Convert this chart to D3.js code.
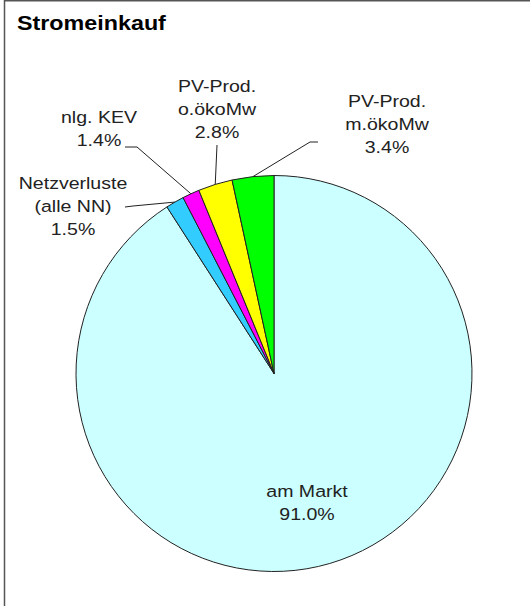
<!DOCTYPE html>
<html>
<head>
<meta charset="utf-8">
<script src="https://cdn.jsdelivr.net/npm/d3@7"></script>
<style>
  body { margin: 0; background: #fff; }
  text { font-family: Arial, "Liberation Sans", sans-serif; fill: #222; }
</style>
</head>
<body>
<div id="chart"></div>
<script>
// Chart data
const categories = ["am Markt", "Netzverluste (alle NN)", "nlg. KEV", "PV-Prod. o.ökoMw", "PV-Prod. m.ökoMw"];
const labelLines = [["am Markt"], ["Netzverluste", "(alle NN)"], ["nlg. KEV"], ["PV-Prod.", "o.ökoMw"], ["PV-Prod.", "m.ökoMw"]];
const shares = [91.0, 1.5, 1.4, 2.8, 3.4];
const colors = ["#ccffff", "#33ccff", "#ff00ff", "#ffff00", "#00ff00"];

// Label placement (manually positioned, like the original)
const labelLayout = [
  { x: 307, y: 497, leader: null },
  { x: 73, y: 189, leader: [[125, 207], [133, 206]] },
  { x: 99, y: 123, leader: [[125, 147], [137, 147]] },
  { x: 217, y: 92, leader: [[217, 145]] },
  { x: 387, y: 107, leader: [[318, 142], [310, 142]] }
];

const width = 530, height = 606;
const cx = 274, cy = 373.5, radius = 198;
const lineH = 23;

const svg = d3.select("#chart")
    .append("svg")
    .attr("width", width)
    .attr("height", height);

// Frame (left and top edge visible)
svg.append("line")
    .attr("x1", 4.5).attr("y1", 0).attr("x2", 4.5).attr("y2", height)
    .attr("stroke", "#555").attr("stroke-width", 1.5);
svg.append("line")
    .attr("x1", 4).attr("y1", 0.75).attr("x2", width).attr("y2", 0.75)
    .attr("stroke", "#555").attr("stroke-width", 1.5);

// Title
svg.append("text")
    .attr("transform", "translate(17,30) scale(1.11,1)")
    .attr("font-size", 21)
    .attr("font-weight", "bold")
    .style("fill", "#000")
    .text("Stromeinkauf");

const data = shares.map((v, i) => ({ name: categories[i], value: v, i: i }));

const pie = d3.pie()
    .sort(null)
    .value(d => d.value);

const arc = d3.arc()
    .innerRadius(0)
    .outerRadius(radius);

const edgeArc = d3.arc()
    .innerRadius(radius)
    .outerRadius(radius);

const arcs = pie(data);

const g = svg.append("g")
    .attr("transform", `translate(${cx},${cy})`);

g.selectAll("path.slice")
    .data(arcs)
    .enter().append("path")
    .attr("class", "slice")
    .attr("d", arc)
    .attr("fill", d => colors[d.data.i])
    .attr("stroke", "#222")
    .attr("stroke-width", 1);

// Leader lines
const leaderLine = d3.line();
arcs.forEach((d, i) => {
    const lay = labelLayout[i];
    if (!lay.leader) return;
    const c = edgeArc.centroid(d);
    const end = [cx + c[0], cy + c[1]];
    svg.append("path")
        .attr("d", leaderLine(lay.leader.concat([end])))
        .attr("fill", "none")
        .attr("stroke", "#222")
        .attr("stroke-width", 1);
});

// Labels
arcs.forEach((d, i) => {
    const lay = labelLayout[i];
    const lines = labelLines[i].concat([d3.format(".1f")(d.data.value) + "%"]);
    const t = svg.append("text")
        .attr("transform", `translate(${lay.x},${lay.y}) scale(1.15,1)`)
        .attr("text-anchor", "middle")
        .attr("font-size", 17);
    lines.forEach((s, k) => {
        t.append("tspan")
            .attr("x", 0)
            .attr("y", k * lineH)
            .text(s);
    });
});
</script>
</body>
</html>
